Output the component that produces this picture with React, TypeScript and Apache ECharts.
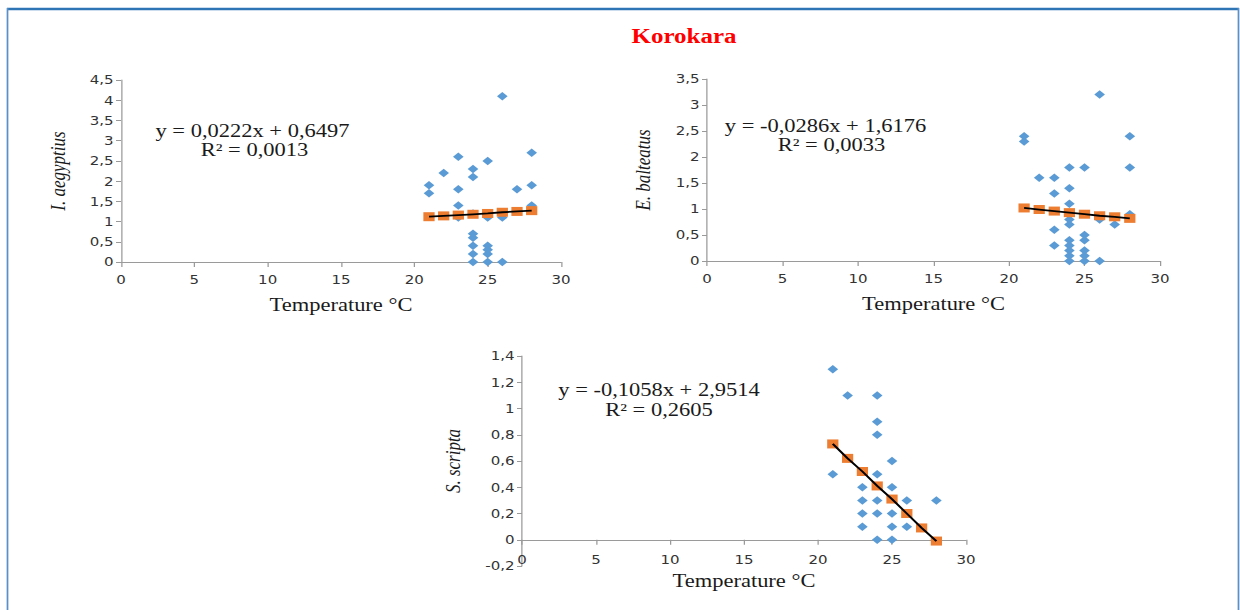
import React, { useEffect, useRef } from "react";
import * as echarts from "echarts";

// ---------- data ----------
const temps = [21, 22, 23, 24, 25, 26, 27, 28];

const obsAegyptius: [number, number][] = [
  [26, 4.1], [28, 2.7], [23, 2.6], [25, 2.5], [24, 2.3], [22, 2.2], [24, 2.1],
  [21, 1.9], [21, 1.7], [23, 1.8], [27, 1.8], [28, 1.9], [23, 1.4], [28, 1.4],
  [23, 1.1], [24, 1.2], [25, 1.1], [26, 1.1], [24, 0.7], [24, 0.6], [24, 0.4],
  [24, 0.2], [24, 0], [25, 0.4], [25, 0.3], [25, 0.2], [25, 0], [26, 0],
];
const fitAegyptius = [1.12, 1.14, 1.16, 1.18, 1.2, 1.23, 1.25, 1.27];

const obsBalteatus: [number, number][] = [
  [26, 3.2], [21, 2.4], [21, 2.3], [28, 2.4], [28, 1.8], [24, 1.8], [25, 1.8],
  [22, 1.6], [23, 1.6], [24, 1.4], [23, 1.3], [24, 1.1], [28, 0.9], [26, 0.8],
  [24, 0.8], [24, 0.7], [27, 0.7], [23, 0.6], [23, 0.3], [24, 0.4], [24, 0.3],
  [24, 0.2], [24, 0.1], [24, 0], [25, 0.5], [25, 0.4], [25, 0.2], [25, 0.1],
  [25, 0], [26, 0],
];
const fitBalteatus = [1.02, 0.99, 0.96, 0.93, 0.9, 0.87, 0.85, 0.82];

const obsScripta: [number, number][] = [
  [21, 1.3], [22, 1.1], [24, 1.1], [24, 0.9], [24, 0.8], [25, 0.6], [21, 0.5],
  [24, 0.5], [23, 0.4], [25, 0.4], [23, 0.3], [24, 0.3], [26, 0.3], [28, 0.3],
  [23, 0.2], [24, 0.2], [25, 0.2], [23, 0.1], [25, 0.1], [26, 0.1], [24, 0],
  [25, 0],
];
const fitScripta = [0.73, 0.62, 0.52, 0.41, 0.31, 0.2, 0.09, -0.01];

const yNames = ["I. aegyptius", "E. balteatus", "S. scripta"];
const equations = [
  ["y = 0,0222x + 0,6497", "R² = 0,0013"],
  ["y = -0,0286x + 1,6176", "R² = 0,0033"],
  ["y = -0,1058x + 2,9514", "R² = 0,2605"],
];
const yRanges = [
  { min: 0, max: 4.5, interval: 0.5 },
  { min: 0, max: 3.5, interval: 0.5 },
  { min: -0.2, max: 1.4, interval: 0.2 },
];
const titleText = "Korokara";
const xName = "Temperature °C";

// ---------- layout ----------
const S = 1.25; // horizontal stretch of the original figure
const W = 1240 / S;
const sx = (x: number) => x / S;

const BLUE = "#5b9bd5";
const ORANGE = "#ed7d31";
const AXIS = "#9a9a9a";
const LABEL = "#333333";
const SERIF = "'Liberation Serif', 'Times New Roman', serif";
const SANS = "'DejaVu Sans', Verdana, sans-serif";

const fmt = (v: number) => String(Math.round(v * 10) / 10).replace(".", ",");

export default function App() {
  const ref = useRef<HTMLDivElement>(null);

  useEffect(() => {
    if (!ref.current) return;
    const chart = echarts.init(ref.current, undefined, { renderer: "svg" });

    const grids = [
      { left: sx(121), top: 80, width: sx(561) - sx(121), height: 182, outerBoundsMode: "none", containLabel: false },
      { left: sx(707), top: 79, width: sx(1160) - sx(707), height: 182, outerBoundsMode: "none", containLabel: false },
      { left: sx(522), top: 356, width: sx(966) - sx(522), height: 210, outerBoundsMode: "none", containLabel: false },
    ];
    const yGaps = [42, 43, 47];
    const xGaps = [34, 34, 6];
    const xMargins = [12, 12, -12];
    const obs = [obsAegyptius, obsBalteatus, obsScripta];
    const fits = [fitAegyptius, fitBalteatus, fitScripta];
    const eqPos = [
      [[sx(252.5), 131], [sx(254.5), 150]],
      [[sx(825.5), 126], [sx(831.5), 145]],
      [[sx(659), 390], [sx(659), 410]],
    ];

    const xAxis = grids.map((_, i) => ({
      type: "value",
      gridIndex: i,
      min: 0,
      max: 30,
      interval: 5,
      name: xName,
      nameLocation: "middle",
      nameGap: xGaps[i],
      nameTextStyle: { fontFamily: SERIF, fontSize: 18, color: "#1a1a1a" },
      axisLine: { show: true, onZero: true, lineStyle: { color: AXIS, width: 1 } },
      axisTick: { show: true, length: 5, lineStyle: { color: AXIS } },
      axisLabel: { fontFamily: SANS, fontSize: 12, color: LABEL, margin: xMargins[i], formatter: fmt },
      splitLine: { show: false },
    }));

    const yAxis = grids.map((_, i) => ({
      type: "value",
      gridIndex: i,
      min: yRanges[i].min,
      max: yRanges[i].max,
      interval: yRanges[i].interval,
      name: yNames[i],
      nameLocation: "middle",
      nameRotate: 90,
      nameGap: yGaps[i],
      nameTextStyle: { fontFamily: SERIF, fontSize: 17, fontStyle: "italic", color: "#1a1a1a" },
      axisLine: { show: true, onZero: false, lineStyle: { color: AXIS, width: 1 } },
      axisTick: { show: true, length: 4, lineStyle: { color: AXIS } },
      axisLabel: { fontFamily: SANS, fontSize: 12, color: LABEL, margin: 6, formatter: fmt },
      splitLine: { show: false },
    }));

    const series: any[] = [];
    grids.forEach((_, i) => {
      series.push({
        type: "scatter",
        xAxisIndex: i,
        yAxisIndex: i,
        data: obs[i],
        symbol: "diamond",
        symbolSize: [8.5, 8.5],
        itemStyle: { color: BLUE, opacity: 1 },
        z: 2,
      });
      const fitData = temps.map((t, j) => [t, fits[i][j]]);
      series.push({
        type: "scatter",
        xAxisIndex: i,
        yAxisIndex: i,
        data: fitData,
        symbol: "rect",
        symbolSize: [9, 9],
        itemStyle: { color: ORANGE, opacity: 1 },
        z: 3,
      });
      series.push({
        type: "line",
        xAxisIndex: i,
        yAxisIndex: i,
        data: fitData,
        symbol: "none",
        lineStyle: { color: "#000", width: 1.8 },
        z: 4,
      });
    });

    const graphic: any[] = [
      // frame
      { type: "line", shape: { x1: sx(7), y1: 9, x2: sx(1239), y2: 9 }, style: { stroke: "#2e75b6", lineWidth: 2.5 }, z: 10 },
      { type: "line", shape: { x1: sx(7.5), y1: 8, x2: sx(7.5), y2: 620 }, style: { stroke: "#5b8fc9", lineWidth: 1.4 }, z: 10 },
      { type: "line", shape: { x1: sx(1238.5), y1: 8, x2: sx(1238.5), y2: 620 }, style: { stroke: "#5b8fc9", lineWidth: 1.4 }, z: 10 },
      {
        type: "text",
        x: sx(684),
        y: 36,
        style: {
          text: titleText,
          fill: "#ff0000",
          font: `bold 20px ${SERIF}`,
          textAlign: "center",
          textVerticalAlign: "middle",
        },
      },
    ];
    equations.forEach((lines, i) => {
      lines.forEach((t, j) => {
        graphic.push({
          type: "text",
          x: eqPos[i][j][0],
          y: eqPos[i][j][1],
          style: {
            text: t,
            fill: "#1a1a1a",
            font: `18px ${SERIF}`,
            textAlign: "center",
            textVerticalAlign: "middle",
          },
        });
      });
    });

    chart.setOption({
      animation: false,
      backgroundColor: "#ffffff",
      grid: grids,
      xAxis,
      yAxis,
      series,
      graphic,
    });

    return () => chart.dispose();
  }, []);

  return (
    <div
      style={{
        position: "fixed",
        left: 0,
        top: 0,
        width: 1240,
        height: 610,
        overflow: "hidden",
        background: "#fff",
      }}
    >
      <div
        ref={ref}
        style={{ width: W, height: 610, transform: `scaleX(${S})`, transformOrigin: "0 0" }}
      />
    </div>
  );
}
